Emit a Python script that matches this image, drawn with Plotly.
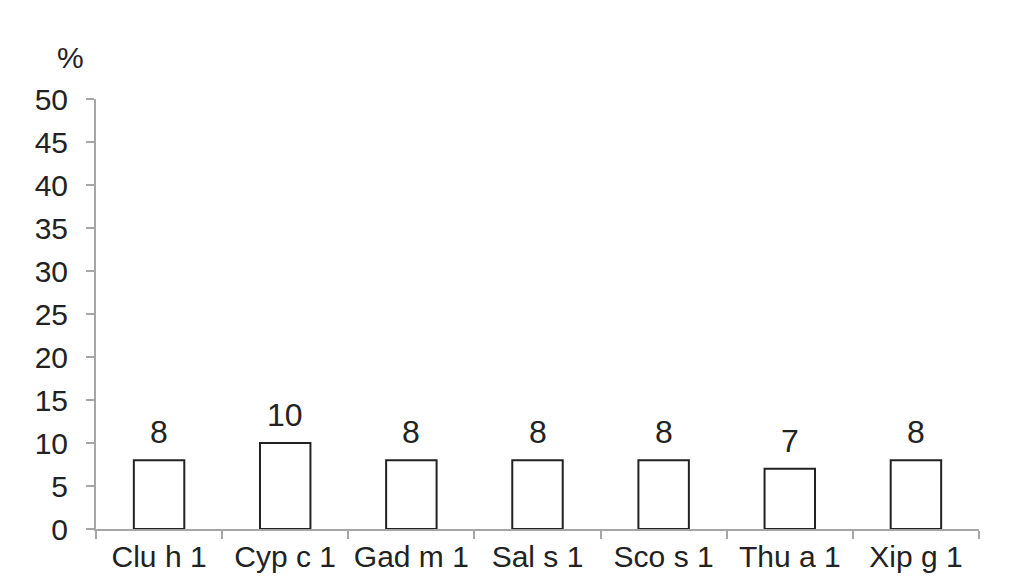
import plotly.graph_objects as go

categories = ["Clu h 1", "Cyp c 1", "Gad m 1", "Sal s 1", "Sco s 1", "Thu a 1", "Xip g 1"]
values = [8, 10, 8, 8, 8, 7, 8]
y_ticks = [0, 5, 10, 15, 20, 25, 30, 35, 40, 45, 50]

FONT = "Liberation Sans Narrow, Arial Narrow, Liberation Sans, Arial, sans-serif"
TXT = "#222222"
AX = "#a6a6a6"
FS = 30

fig = go.Figure(go.Bar(
    x=categories, y=values,
    marker=dict(color="white", line=dict(color="#222222", width=2)),
    cliponaxis=False,
))

annotations = [dict(x=c, y=v, text=str(v), xref="x", yref="y", showarrow=False,
                    xanchor="center", yanchor="bottom", yshift=8,
                    font=dict(family=FONT, size=FS + 2, color=TXT))
               for c, v in zip(categories, values)]
annotations.append(dict(text="%", xref="paper", yref="paper", x=0, y=1.0, xshift=-10, yshift=42,
                        xanchor="right", yanchor="middle", showarrow=False,
                        font=dict(family=FONT, size=FS, color=TXT)))

fig.update_layout(
    width=1023, height=588,
    margin=dict(l=88, r=52, t=91, b=67, autoexpand=False),
    plot_bgcolor="white", paper_bgcolor="white",
    bargap=0.6,
    showlegend=False,
    font=dict(family=FONT, size=FS, color=TXT),
    xaxis=dict(
        type="category", showline=True, linecolor=AX, linewidth=2,
        ticks="outside", tickson="boundaries", ticklen=8, tickwidth=2, tickcolor=AX,
        showgrid=False, tickangle=0, automargin=False,
        tickfont=dict(family=FONT, size=FS, color=TXT),
    ),
    yaxis=dict(
        range=[0, 50], tickvals=y_ticks, showline=True, linecolor=AX, linewidth=2,
        ticks="outside", ticklen=8, tickwidth=2, tickcolor=AX, automargin=False,
        ticklabelstandoff=12,
        showgrid=False, zeroline=False, tickfont=dict(family=FONT, size=FS, color=TXT),
    ),
    annotations=annotations,
)

fig.write_html("out.html")
